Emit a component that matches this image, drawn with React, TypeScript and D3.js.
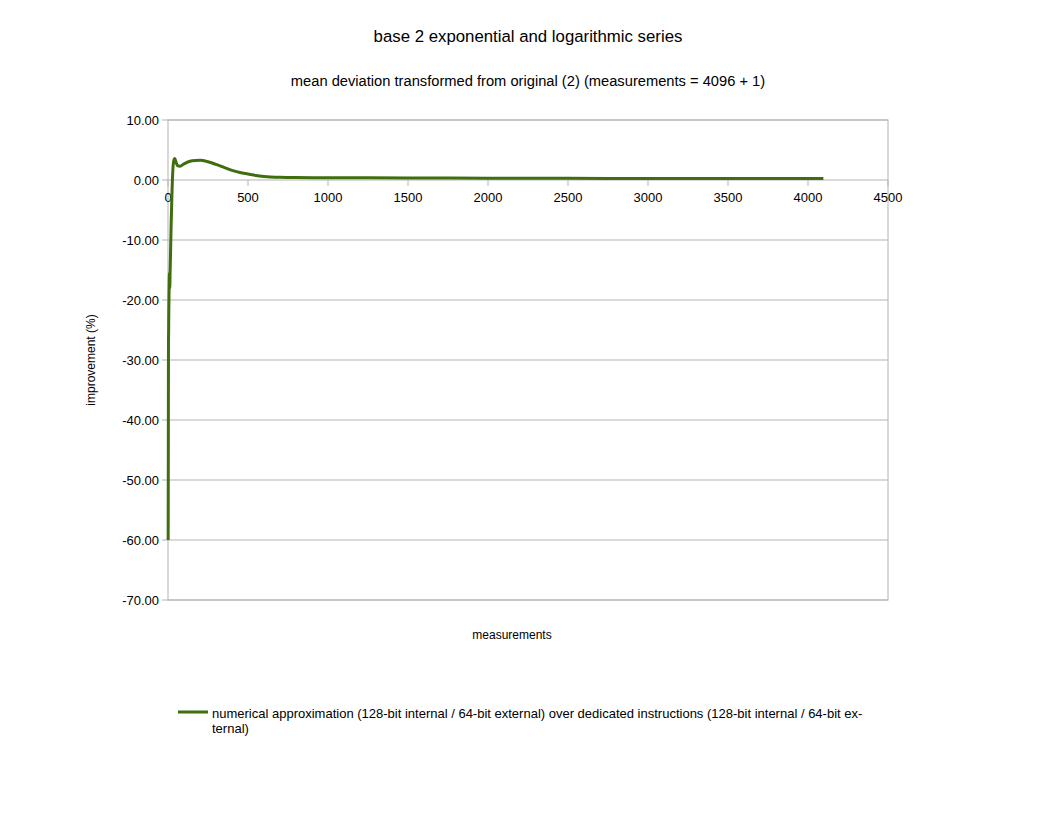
import React from "react";
import * as d3 from "d3";

const title = "base 2 exponential and logarithmic series";
const subtitle = "mean deviation transformed from original (2) (measurements = 4096 + 1)";
const xLabel = "measurements";
const yLabel = "improvement (%)";
const seriesName =
  "numerical approximation (128-bit internal / 64-bit external) over dedicated instructions (128-bit internal / 64-bit ex-";
const seriesName2 = "ternal)";

const xTicks = [0, 500, 1000, 1500, 2000, 2500, 3000, 3500, 4000, 4500];
const yTicks = [10, 0, -10, -20, -30, -40, -50, -60, -70];

const measurements = [
  1, 2, 3, 4, 5, 7, 9, 11, 13, 16, 20, 25, 30, 36, 42, 50, 60, 75, 100, 150,
  200, 250, 300, 350, 400, 450, 500, 550, 600, 700, 800, 1000, 1500, 2000,
  2500, 3000, 3500, 4096,
];
const improvement = [
  -60, -45, -27.5, -25, -22, -18, -15.5, -18, -15.5, -12, -7, -2, 1.5, 3.2,
  3.6, 3.0, 2.4, 2.3, 2.7, 3.2, 3.3, 3.05, 2.6, 2.1, 1.6, 1.25, 1.0, 0.75,
  0.6, 0.45, 0.4, 0.38, 0.34, 0.3, 0.28, 0.26, 0.25, 0.25,
];

const W = 1056;
const H = 816;
const left = 168;
const right = 888;
const top = 120;
const bottom = 600;

export default function App() {
  const x = d3.scaleLinear().domain([0, 4500]).range([left, right]);
  const y = d3.scaleLinear().domain([-70, 10]).range([bottom, top]);
  const data = measurements.map((m, i) => [m, improvement[i]] as [number, number]);
  const line = d3
    .line<[number, number]>()
    .x((d) => x(d[0]))
    .y((d) => y(d[1]))
    .curve(d3.curveMonotoneX);
  const font = "'Liberation Sans', Arial, sans-serif";
  const grid = "#b3b3b3";
  const col = "#3f6e0e";
  return (
    <svg
      width={W}
      height={H}
      style={{ position: "absolute", left: 0, top: 0, background: "#fff" }}
      fontFamily={font}
    >
      <rect x={0} y={0} width={W} height={H} fill="#fff" />
      <text x={528} y={42} textAnchor="middle" fontSize={16.8}>
        {title}
      </text>
      <text x={528} y={86} textAnchor="middle" fontSize={14.7}>
        {subtitle}
      </text>
      {yTicks.map((t) => (
        <g key={"y" + t}>
          <line x1={left - 6} x2={right} y1={y(t)} y2={y(t)} stroke={grid} strokeWidth={1} />
          <text x={left - 9} y={y(t) + 4.5} textAnchor="end" fontSize={13}>
            {t.toFixed(2)}
          </text>
        </g>
      ))}
      <rect
        x={left}
        y={top}
        width={right - left}
        height={bottom - top}
        fill="none"
        stroke={grid}
        strokeWidth={1}
      />
      {xTicks.map((t) => (
        <g key={"x" + t}>
          <line x1={x(t)} x2={x(t)} y1={y(0)} y2={y(0) + 6} stroke={grid} strokeWidth={1} />
          <text x={x(t)} y={y(0) + 22} textAnchor="middle" fontSize={13}>
            {t}
          </text>
        </g>
      ))}
      <path
        d={line(data) || ""}
        fill="none"
        stroke={col}
        strokeWidth={3}
        strokeLinejoin="round"
      />
      <text
        transform={`translate(95,360) rotate(-90)`}
        textAnchor="middle"
        fontSize={12}
      >
        {yLabel}
      </text>
      <text x={512} y={639} textAnchor="middle" fontSize={12}>
        {xLabel}
      </text>
      <line x1={178} x2={208} y1={712} y2={712} stroke={col} strokeWidth={3} />
      <text x={212} y={718} fontSize={13}>
        {seriesName}
      </text>
      <text x={212} y={733} fontSize={13}>
        {seriesName2}
      </text>
    </svg>
  );
}
